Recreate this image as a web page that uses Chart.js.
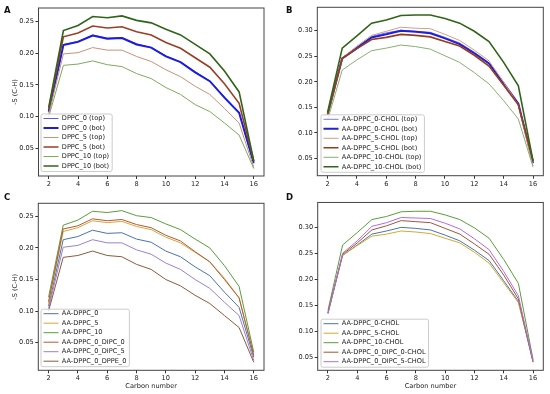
<!DOCTYPE html>
<html><head><meta charset="utf-8">
<script src="https://cdn.jsdelivr.net/npm/chart.js@4.4.0/dist/chart.umd.min.js"></script>
<style>
body{margin:0;background:#fff;}
#wrap{position:relative;width:550px;height:394px;overflow:hidden;background:#fff;}
.pane{position:absolute;width:275px;height:197px;}
.pane canvas{display:block;}
.tag{position:absolute;font:bold 8.5px "DejaVu Sans";line-height:8.5px;color:#111;}
</style></head><body>
<div id="wrap">
  <div class="pane" style="left:0;top:0"><canvas id="cA" width="275" height="197"></canvas></div>
  <div class="pane" style="left:275px;top:0"><canvas id="cB" width="275" height="197"></canvas></div>
  <div class="pane" style="left:0;top:197px"><canvas id="cC" width="275" height="197"></canvas></div>
  <div class="pane" style="left:275px;top:197px"><canvas id="cD" width="275" height="197"></canvas></div>
  <div class="tag" style="left:4px;top:6px">A</div>
  <div class="tag" style="left:286px;top:6px">B</div>
  <div class="tag" style="left:4px;top:193px">C</div>
  <div class="tag" style="left:286px;top:193px">D</div>
</div>
<script>
// ---------- data ----------
const carbons = [2, 3, 4, 5, 6, 7, 8, 9, 10, 11, 12, 13, 14, 15, 16];
const yTitleText = '-S (C-H)';
const xTitleText = 'Carbon number';

// Panel A
const labelsA = ['DPPC_0 (top)', 'DPPC_0 (bot)', 'DPPC_5 (top)', 'DPPC_5 (bot)', 'DPPC_10 (top)', 'DPPC_10 (bot)'];
const dppc0Top  = [0.107, 0.214, 0.219, 0.229, 0.224, 0.225, 0.215, 0.209, 0.196, 0.186, 0.171, 0.156, 0.131, 0.106, 0.026];
const dppc0Bot  = [0.108, 0.213, 0.218, 0.228, 0.223, 0.224, 0.214, 0.209, 0.195, 0.186, 0.170, 0.156, 0.130, 0.106, 0.027];
const dppc5Top  = [0.104, 0.199, 0.201, 0.209, 0.205, 0.205, 0.195, 0.187, 0.174, 0.163, 0.148, 0.135, 0.113, 0.090, 0.020];
const dppc5Bot  = [0.112, 0.226, 0.232, 0.243, 0.240, 0.242, 0.234, 0.229, 0.217, 0.208, 0.193, 0.178, 0.152, 0.121, 0.030];
const dppc10Top = [0.100, 0.181, 0.183, 0.188, 0.182, 0.179, 0.168, 0.160, 0.146, 0.135, 0.119, 0.108, 0.090, 0.071, 0.018];
const dppc10Bot = [0.115, 0.236, 0.244, 0.258, 0.256, 0.259, 0.252, 0.248, 0.238, 0.229, 0.214, 0.199, 0.172, 0.139, 0.030];

// Panel B
const labelsB = ['AA-DPPC_0-CHOL (top)', 'AA-DPPC_0-CHOL (bot)', 'AA-DPPC_5-CHOL (top)', 'AA-DPPC_5-CHOL (bot)', 'AA-DPPC_10-CHOL (top)', 'AA-DPPC_10-CHOL (bot)'];
const chol0Top  = [0.135, 0.247, 0.268, 0.289, 0.296, 0.301, 0.299, 0.297, 0.287, 0.276, 0.258, 0.237, 0.198, 0.157, 0.040];
const chol0Bot  = [0.135, 0.246, 0.266, 0.287, 0.293, 0.300, 0.298, 0.295, 0.285, 0.274, 0.256, 0.236, 0.197, 0.157, 0.041];
const chol5Top  = [0.133, 0.247, 0.270, 0.291, 0.299, 0.307, 0.305, 0.304, 0.293, 0.281, 0.262, 0.241, 0.199, 0.155, 0.035];
const chol5Bot  = [0.136, 0.246, 0.265, 0.283, 0.287, 0.293, 0.291, 0.288, 0.279, 0.270, 0.252, 0.231, 0.193, 0.155, 0.045];
const chol10Top = [0.125, 0.223, 0.243, 0.261, 0.266, 0.272, 0.269, 0.264, 0.251, 0.238, 0.218, 0.196, 0.163, 0.127, 0.033];
const chol10Bot = [0.140, 0.266, 0.290, 0.315, 0.321, 0.330, 0.331, 0.331, 0.324, 0.315, 0.299, 0.279, 0.238, 0.192, 0.045];

// Panel C
const labelsC = ['AA-DPPC_0', 'AA-DPPC_5', 'AA-DPPC_10', 'AA-DPPC_0_DIPC_0', 'AA-DPPC_0_DIPC_5', 'AA-DPPC_0_DPPE_0'];
const aaDppc0     = [0.108, 0.213, 0.218, 0.228, 0.223, 0.224, 0.214, 0.209, 0.195, 0.186, 0.170, 0.156, 0.130, 0.106, 0.027];
const aaDppc5     = [0.112, 0.226, 0.232, 0.243, 0.240, 0.242, 0.234, 0.229, 0.217, 0.208, 0.193, 0.178, 0.152, 0.121, 0.030];
const aaDppc10    = [0.122, 0.236, 0.244, 0.258, 0.256, 0.259, 0.251, 0.248, 0.238, 0.229, 0.214, 0.200, 0.172, 0.139, 0.035];
const aaDipc0     = [0.115, 0.230, 0.235, 0.246, 0.243, 0.245, 0.237, 0.232, 0.220, 0.211, 0.194, 0.178, 0.150, 0.121, 0.030];
const aaDipc5     = [0.104, 0.201, 0.204, 0.213, 0.208, 0.208, 0.197, 0.190, 0.176, 0.166, 0.150, 0.136, 0.114, 0.093, 0.022];
const aaDppe0     = [0.100, 0.185, 0.188, 0.195, 0.188, 0.186, 0.174, 0.166, 0.150, 0.140, 0.125, 0.112, 0.093, 0.074, 0.019];

// Panel D
const labelsD = ['AA-DPPC_0-CHOL', 'AA-DPPC_5-CHOL', 'AA-DPPC_10-CHOL', 'AA-DPPC_0_DIPC_0-CHOL', 'AA-DPPC_0_DIPC_5-CHOL'];
const dChol0      = [0.135, 0.246, 0.266, 0.287, 0.293, 0.300, 0.298, 0.295, 0.285, 0.274, 0.256, 0.236, 0.197, 0.157, 0.041];
const dChol5      = [0.136, 0.246, 0.265, 0.283, 0.287, 0.293, 0.291, 0.288, 0.279, 0.270, 0.252, 0.231, 0.193, 0.155, 0.045];
const dChol10     = [0.140, 0.266, 0.290, 0.315, 0.321, 0.330, 0.331, 0.331, 0.324, 0.315, 0.299, 0.279, 0.238, 0.192, 0.045];
const dDipc0Chol  = [0.135, 0.248, 0.270, 0.295, 0.303, 0.313, 0.311, 0.309, 0.298, 0.287, 0.268, 0.248, 0.208, 0.162, 0.040];
const dDipc5Chol  = [0.133, 0.250, 0.274, 0.302, 0.309, 0.319, 0.318, 0.317, 0.308, 0.297, 0.278, 0.257, 0.215, 0.168, 0.042];

// ---------- styles ----------
const colorsA = ['#5a5af0', '#1c1ce0', '#c8917a', '#9a3f25', '#7daa5c', '#2f6419'];
const widthsA = [1, 2, 1, 1.6, 1, 1.6];
const colorsB = ['#7777ff', '#2020d8', '#d0a088', '#9a3a18', '#88b070', '#2f6419'];
const widthsB = [1, 2, 1, 1.6, 1, 1.6];
const colorsC = ['#4a72b5', '#d9a53a', '#5a9e3a', '#b05a35', '#9a80d0', '#8b5a3a'];
const colorsD = ['#4a72b5', '#d4aa2a', '#5a9e3a', '#a0553a', '#b36ae0'];

const FONT = 'DejaVu Sans';
const FS = 6.6;
const LPAD = 2.9;
const TXT = '#222';
Chart.defaults.font.family = FONT;
Chart.defaults.font.size = FS;
Chart.defaults.color = TXT;

const framePlugin = {
  id: 'axFrame',
  afterDatasetsDraw(chart) {
    const {ctx, chartArea: a} = chart;
    ctx.save();
    ctx.strokeStyle = '#444';
    ctx.lineWidth = 1;
    ctx.strokeRect(a.left, a.top, a.right - a.left, a.bottom - a.top);
    ctx.restore();
  }
};

const legendPlace = {
  id: 'legendPlace',
  beforeLayout(chart, args, opts) {
    const lg = chart.legend;
    if (lg && !lg._patched) {
      lg._patched = true;
      lg._layers = function () {
        return [{ z: 10, draw: (ca) => { drawLegendFrame(chart, opts); lg.draw(ca); } }];
      };
    }
  },
  afterLayout(chart, args, opts) {
    const lg = chart.legend;
    if (!lg) return;
    const pad = lg.options.labels.padding;
    lg.left = opts.lineX - pad;
    lg.top = opts.firstY - FS / 2 - pad;
    lg.right = lg.left + lg.width + 40;
    lg.bottom = lg.top + lg.height;
    if (lg.adjustHitBoxes) lg.adjustHitBoxes();
  }
};

function drawLegendFrame(chart, opts) {
  const lg = chart.legend;
  const ctx = chart.ctx;
  ctx.save();
  ctx.font = FS + 'px "' + FONT + '"';
  let mw = 0;
  lg.legendItems.forEach(it => { mw = Math.max(mw, ctx.measureText(it.text).width); });
  const n = lg.legendItems.length;
  const lh = FS + lg.options.labels.padding;
  const x0 = opts.lineX - 2.5, y0 = opts.firstY - 4.5;
  const x1 = opts.lineX + 15 + FS / 2 + mw + 3, y1 = opts.firstY + (n - 1) * lh + 5.5;
  const r = 2;
  ctx.beginPath();
  ctx.moveTo(x0 + r, y0);
  ctx.lineTo(x1 - r, y0); ctx.quadraticCurveTo(x1, y0, x1, y0 + r);
  ctx.lineTo(x1, y1 - r); ctx.quadraticCurveTo(x1, y1, x1 - r, y1);
  ctx.lineTo(x0 + r, y1); ctx.quadraticCurveTo(x0, y1, x0, y1 - r);
  ctx.lineTo(x0, y0 + r); ctx.quadraticCurveTo(x0, y0, x0 + r, y0);
  ctx.closePath();
  ctx.fillStyle = 'rgba(255,255,255,0.8)';
  ctx.fill();
  ctx.strokeStyle = '#cccccc';
  ctx.lineWidth = 1;
  ctx.stroke();
  ctx.restore();
}

function makePanel(id, p) {
  const n = p.series.length;
  const datasets = p.series.map((vals, i) => ({
    label: p.labels[i],
    data: carbons.map((c, k) => ({ x: c, y: vals[k] })),
    borderColor: p.colors[i],
    backgroundColor: p.colors[i],
    borderWidth: p.widths[i],
    pointBorderWidth: p.widths[i],
    pointRadius: 0,
    pointHoverRadius: 0,
    tension: 0,
    fill: false,
    order: n - i
  }));
  const a = p.area;
  const tickGrid = { display: true, drawOnChartArea: false, drawTicks: true, tickLength: 3, tickColor: '#333', tickWidth: 1 };
  return new Chart(document.getElementById(id), {
    type: 'line',
    data: { datasets },
    plugins: [framePlugin, legendPlace],
    options: {
      responsive: false,
      animation: false,
      events: [],
      layout: { padding: { left: 0, top: a.top, right: 275 - a.right, bottom: 0 } },
      scales: {
        x: {
          type: 'linear', min: 1.3, max: 16.7,
          ticks: { stepSize: 2, includeBounds: false, padding: 1.5, maxRotation: 0, autoSkip: false, color: TXT,
                   callback: v => String(v) },
          grid: tickGrid,
          border: { display: false },
          title: { display: !!p.xTitle, text: p.xTitle || '', color: TXT, font: { size: FS }, padding: { top: 0, bottom: 4 } },
          afterFit: s => { s.height = 197 - a.bottom; }
        },
        y: {
          type: 'linear', min: p.yMin, max: p.yMax,
          ticks: { stepSize: 0.05, includeBounds: false, padding: 1.5, color: TXT,
                   callback: v => v.toFixed(2) },
          grid: tickGrid,
          border: { display: false },
          title: { display: !!p.yTitle, text: p.yTitle || '', color: TXT, font: { size: FS }, padding: { top: 11, bottom: 0 } },
          afterFit: s => { s.width = a.left; }
        }
      },
      plugins: {
        tooltip: { enabled: false },
        legend: {
          display: true, position: 'chartArea', align: 'start',
          labels: { usePointStyle: true, pointStyle: 'line', pointStyleWidth: 15, boxHeight: FS, padding: LPAD,
                    color: TXT, font: { size: FS }, sort: (x, y) => x.datasetIndex - y.datasetIndex }
        },
        legendPlace: p.legend
      }
    }
  });
}

makePanel('cA', {
  labels: labelsA, series: [dppc0Top, dppc0Bot, dppc5Top, dppc5Bot, dppc10Top, dppc10Bot],
  colors: colorsA, widths: widthsA,
  yMin: 0.0063, yMax: 0.2715, yTitle: yTitleText, xTitle: null,
  area: { left: 38.5, right: 264, top: 8, bottom: 176 },
  legend: { lineX: 43.5, firstY: 118.5 }
});
makePanel('cB', {
  labels: labelsB, series: [chol0Top, chol0Bot, chol5Top, chol5Bot, chol10Top, chol10Bot],
  colors: colorsB, widths: widthsB,
  yMin: 0.016, yMax: 0.346, yTitle: null, xTitle: null,
  area: { left: 42.3, right: 268.3, top: 7.3, bottom: 175.7 },
  legend: { lineX: 48.5, firstY: 119.3 }
});
makePanel('cC', {
  labels: labelsC, series: [aaDppc0, aaDppc5, aaDppc10, aaDipc0, aaDipc5, aaDppe0],
  colors: colorsC, widths: [1, 1, 1, 1, 1, 1],
  yMin: 0.0063, yMax: 0.2706, yTitle: yTitleText, xTitle: xTitleText,
  area: { left: 38.3, right: 264, top: 6.3, bottom: 173.3 },
  legend: { lineX: 43.5, firstY: 116.7 }
});
makePanel('cD', {
  labels: labelsD, series: [dChol0, dChol5, dChol10, dDipc0Chol, dDipc5Chol],
  colors: colorsD, widths: [1, 1, 1, 1, 1],
  yMin: 0.0244, yMax: 0.348, yTitle: null, xTitle: xTitleText,
  area: { left: 42.7, right: 268.3, top: 5, bottom: 173.3 },
  legend: { lineX: 48.5, firstY: 126.7 }
});
</script>
</body></html>
